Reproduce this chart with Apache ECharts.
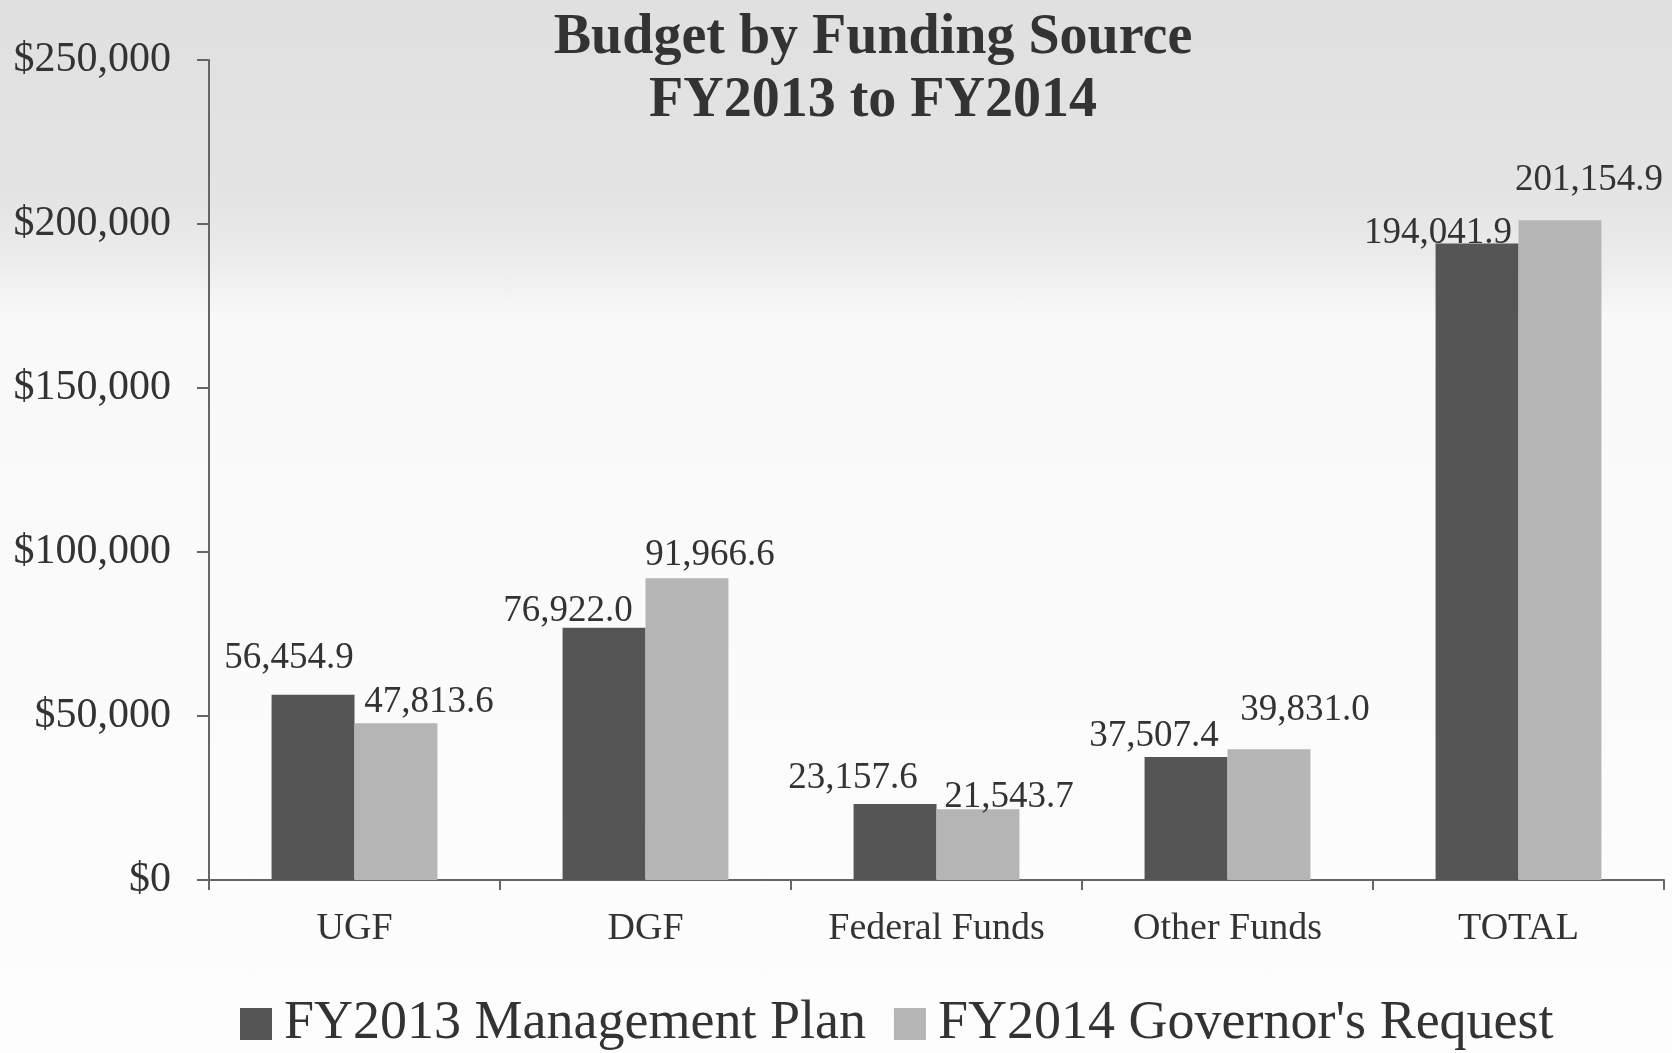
<!DOCTYPE html>
<html><head><meta charset="utf-8">
<script src="https://cdn.jsdelivr.net/npm/echarts@6/dist/echarts.min.js"></script>
<style>
html,body{margin:0;padding:0;}
body{width:1672px;height:1053px;background:linear-gradient(to bottom,#e0e0e0 0px,#e4e4e4 200px,#ececec 260px,#f9f9f9 320px,#fdfdfd 1053px);}
#c{width:1672px;height:1053px;}
</style></head><body>
<div id="c"></div>
<script>
const categories = ['UGF','DGF','Federal Funds','Other Funds','TOTAL'];
const seriesNames = ['FY2013 Management Plan',"FY2014 Governor's Request"];
const fy2013 = [56454.9, 76922.0, 23157.6, 37507.4, 194041.9];
const fy2014 = [47813.6, 91966.6, 21543.7, 39831.0, 201154.9];
const yTicks = [0, 50000, 100000, 150000, 200000, 250000];

// label placement styling (pixels), kept separate from data
const shift2013 = [[-24,-8],[-36,12],[-42,3],[-32,8],[-39,18]];
const shift2014 = [[33,8],[23,5],[31,16],[36,-11],[29,-11]];

const fontFam = '"Liberation Serif", "DejaVu Serif", serif';
const fmt = v => v.toLocaleString('en-US',{minimumFractionDigits:1,maximumFractionDigits:1});

function mk(vals, shifts){
  return vals.map((v,i)=>({value:v,label:{offset:shifts[i]}}));
}

const chart = echarts.init(document.getElementById('c'));
chart.setOption({
  backgroundColor:'transparent',
  textStyle:{fontFamily:fontFam},
  title:{
    text:'Budget by Funding Source\nFY2013 to FY2014',
    left:868, top:2, textAlign:'center',
    textStyle:{fontFamily:fontFam,fontWeight:'bold',fontSize:56,color:'#333',lineHeight:63}
  },
  legend:{
    top:992, left:235,
    itemWidth:32, itemHeight:32, itemGap:28,
    icon:'rect',
    textStyle:{fontFamily:fontFam,fontSize:54,color:'#333',padding:[0,0,0,7]},
    data:seriesNames
  },
  grid:{left:209,right:8,top:60,bottom:173,containLabel:false},
  xAxis:{
    type:'category', data:categories,
    axisLine:{lineStyle:{color:'#666',width:2}},
    axisTick:{show:true,length:10,lineStyle:{color:'#666',width:2}},
    axisLabel:{fontFamily:fontFam,fontSize:38,color:'#333',margin:30}
  },
  yAxis:{
    type:'value', min:yTicks[0], max:yTicks[yTicks.length-1], interval:yTicks[1]-yTicks[0],
    axisLine:{show:true,lineStyle:{color:'#666',width:2}},
    axisTick:{show:true,length:12,lineStyle:{color:'#666',width:2}},
    splitLine:{show:false},
    axisLabel:{fontFamily:fontFam,fontSize:42,color:'#333',margin:38,
      formatter:v=>'$'+v.toLocaleString('en-US')}
  },
  series:[
    {name:seriesNames[0],type:'bar',data:mk(fy2013,shift2013),barGap:'0%',barCategoryGap:'43%',
     itemStyle:{color:'#555555'},
     label:{show:true,position:'top',distance:10,fontFamily:fontFam,fontSize:37,color:'#333',formatter:p=>fmt(p.value)}},
    {name:seriesNames[1],type:'bar',data:mk(fy2014,shift2014),barGap:'0%',barCategoryGap:'43%',
     itemStyle:{color:'#b5b5b5'},
     label:{show:true,position:'top',distance:10,fontFamily:fontFam,fontSize:37,color:'#333',formatter:p=>fmt(p.value)}}
  ]
});
</script>
</body></html>
